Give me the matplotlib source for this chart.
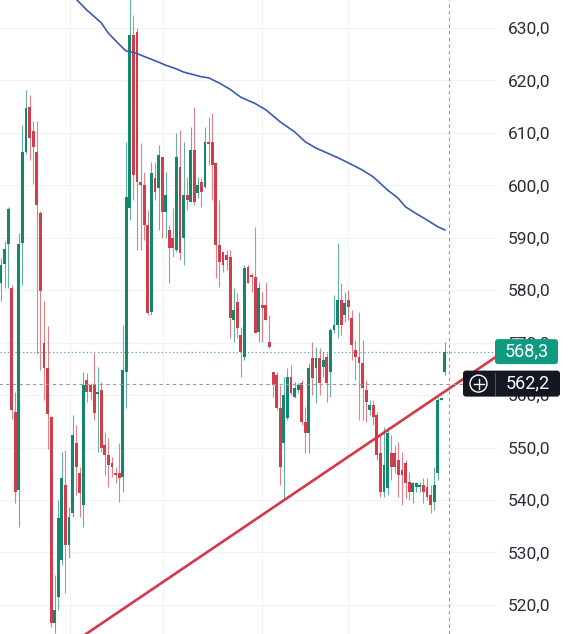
import matplotlib

matplotlib.use('Agg')
import matplotlib.pyplot as plt
from matplotlib.patches import FancyBboxPatch, Circle

plt.rcParams['font.family'] = ['Roboto', 'DejaVu Sans']

# daily candles
opens = [581.4, 585.0, 588.8, 580.4, 556.8, 541.9, 589.0, 606.4, 614.9, 610.4,
         606.4, 594.7, 569.9, 565.2, 555.8, 516.6, 521.5, 528.6, 542.9, 531.4,
         537.5, 550.9, 545.2, 539.0, 562.9, 561.9, 561.9, 560.2, 561.0, 550.5,
         548.6, 547.1, 545.2, 545.2, 544.4, 564.4, 595.7, 628.7, 629.2, 600.6,
         600.1, 592.4, 575.9, 601.4, 599.5, 605.4, 594.9, 591.5, 590.0, 587.7,
         603.5, 590.0, 598.2, 596.8, 606.7, 598.5, 600.6, 599.7, 608.3, 608.3,
         604.3, 588.6, 587.3, 586.7, 586.3, 574.3, 577.8, 571.5, 567.3, 584.4,
         582.9, 582.5, 572.0, 577.2, 577.2, 570.1, 564.4, 563.8, 557.6, 550.9,
         555.6, 563.5, 559.6, 561.0, 562.3, 554.9, 552.8, 567.1, 565.2, 567.1,
         565.4, 567.3, 564.4, 572.4, 573.4, 578.1, 575.3, 578.1, 574.7, 568.6,
         567.3, 566.1, 561.0, 557.2, 558.1, 556.2, 549.0, 541.5, 542.3, 549.0,
         549.0, 547.6, 545.7, 547.1, 543.4, 541.5, 542.5, 542.5, 542.9, 542.5,
         541.0, 539.6, 545.2, 559.1, 564.4]
highs = [586.1, 589.4, 595.9, 581.0, 560.6, 590.9, 611.5, 618.2, 617.2, 612.3,
         612.3, 595.1, 578.0, 573.2, 556.0, 525.7, 540.0, 549.2, 549.5, 538.7,
         556.2, 554.3, 546.3, 564.4, 564.2, 562.3, 568.0, 565.4, 562.5, 553.0,
         551.8, 548.2, 546.3, 550.9, 573.4, 608.3, 636.0, 632.5, 630.0, 608.1,
         602.5, 595.3, 604.5, 604.5, 607.7, 605.4, 602.5, 592.4, 595.7, 610.0,
         610.6, 608.3, 601.6, 611.1, 614.9, 601.6, 601.4, 611.1, 613.0, 613.8,
         604.3, 597.2, 587.3, 587.7, 587.7, 580.4, 579.5, 573.0, 584.8, 584.8,
         583.3, 592.1, 581.6, 579.7, 581.6, 575.3, 564.4, 564.4, 561.9, 563.5,
         565.2, 565.8, 562.5, 562.3, 562.9, 557.7, 566.1, 570.1, 569.2, 569.0,
         568.2, 568.0, 572.8, 579.1, 589.0, 581.4, 579.7, 580.0, 576.2, 570.5,
         575.9, 570.5, 562.9, 559.1, 559.1, 556.8, 552.4, 553.9, 553.9, 552.4,
         550.5, 551.1, 549.2, 547.6, 545.4, 543.4, 543.4, 543.4, 544.2, 544.2,
         542.9, 546.3, 559.5, 559.4, 570.1]
lows = [577.9, 580.4, 580.4, 555.5, 539.4, 534.9, 581.0, 606.0, 604.8, 600.3,
        567.8, 564.8, 559.1, 549.7, 515.8, 514.7, 519.0, 527.6, 522.3, 528.9,
        536.8, 541.0, 536.8, 534.9, 558.7, 559.1, 555.3, 549.2, 549.2, 544.8,
        542.5, 544.4, 543.2, 539.6, 541.5, 557.6, 593.4, 597.2, 587.7, 587.7,
        589.6, 575.3, 575.3, 597.2, 591.5, 590.0, 590.0, 581.4, 586.3, 587.3,
        585.8, 584.8, 595.3, 596.8, 596.3, 597.6, 595.9, 599.5, 603.9, 597.2,
        582.3, 580.6, 583.5, 583.9, 570.9, 570.1, 570.9, 563.5, 566.7, 581.4,
        579.7, 571.8, 570.1, 570.1, 574.3, 569.0, 559.6, 557.2, 542.9, 540.4,
        555.3, 560.0, 559.5, 560.4, 554.3, 549.0, 549.0, 560.0, 558.5, 560.0,
        563.5, 558.7, 559.6, 571.8, 570.9, 571.5, 573.9, 574.3, 566.7, 562.9,
        555.3, 555.3, 554.9, 556.2, 554.3, 547.6, 540.6, 540.6, 541.0, 543.8,
        545.2, 540.6, 539.1, 540.4, 540.0, 539.4, 541.5, 541.5, 539.4, 540.0,
        537.5, 538.1, 543.8, 559.0, 563.8]
closes = [584.8, 587.9, 595.5, 557.2, 541.5, 588.8, 606.4, 614.7, 609.0, 607.3,
          596.3, 579.9, 565.2, 556.4, 516.6, 519.0, 536.6, 544.2, 531.4, 536.8,
          552.4, 546.3, 541.3, 561.9, 560.6, 560.6, 556.6, 560.6, 549.9, 548.6,
          546.7, 546.3, 544.8, 544.2, 564.8, 597.8, 628.7, 602.0, 600.6, 600.1,
          592.4, 575.7, 602.4, 598.7, 605.8, 594.9, 598.2, 588.1, 588.1, 605.4,
          587.1, 598.2, 597.2, 606.7, 596.8, 600.1, 598.7, 608.3, 607.9, 603.9,
          588.6, 585.4, 584.8, 585.8, 574.7, 576.2, 572.8, 568.2, 584.2, 581.4,
          582.5, 571.8, 580.4, 576.6, 574.3, 569.2, 561.9, 557.6, 546.3, 560.0,
          563.5, 560.4, 561.4, 561.9, 554.9, 552.8, 565.2, 563.3, 567.1, 562.3,
          566.7, 562.3, 572.4, 573.4, 578.1, 573.4, 577.6, 576.8, 569.6, 567.3,
          566.1, 561.4, 558.7, 558.1, 555.8, 548.6, 541.5, 546.7, 552.8, 546.3,
          546.3, 544.8, 544.8, 543.3, 541.5, 543.3, 543.3, 542.9, 541.5, 540.6,
          539.1, 542.9, 559.1, 559.3, 568.3]

# moving average, sampled at candle indices
sma_idx = [19, 21, 24, 28, 30, 34, 35, 37, 41, 44, 46, 49, 51, 56, 58, 61, 64,
           67, 71, 74, 78, 82, 85, 88, 91, 94, 97, 101, 104, 108, 111, 113, 116,
           119, 122, 124]
sma_val = [637.2, 635.5, 633.4, 631.0, 629.0, 626.2, 625.6, 625.4, 624.3, 623.5,
           622.9, 622.2, 621.6, 620.7, 620.5, 619.5, 618.3, 616.8, 615.6, 614.4,
           612.1, 610.2, 608.3, 607.1, 606.2, 605.3, 604.3, 602.9, 601.6, 599.1,
           597.5, 595.9, 594.6, 593.4, 592.1, 591.5]

trend_idx = [22.1, 138.5]
trend_val = [513.7, 567.4]

price_ticks = [520, 530, 540, 550, 560, 570, 580, 590, 600, 610, 620, 630]
grid_idx = [19.3, 45.3, 72.9, 96.9]
cursor_idx = 125.1
cursor_price = 562.2
last_price = closes[-1]

GREEN = '#12876d'
RED = '#d23d4c'
TEXT = '#2a2e39'


def fmt(v):
    return f'{v:.1f}'.replace('.', ',')


fig = plt.figure(figsize=(5.7, 6.34), dpi=100)
ax = fig.add_axes([0, 0, 497 / 570, 1])
ax.set_xlim(-0.28, 138.55)
ax.set_ylim(514.46, 635.34)

for p in price_ticks:
    ax.axhline(p, color='#f0f2f6', lw=0.8, zorder=0)
for g in grid_idx:
    ax.axvline(g, color='#f0f2f6', lw=0.8, zorder=0)

xs = list(range(len(opens)))
for i in xs:
    o, h, l, c = opens[i], highs[i], lows[i], closes[i]
    col = GREEN if c >= o else RED
    ax.vlines(i, l, h, colors=col, lw=0.8, alpha=0.65, zorder=2)
    ax.bar(i, max(abs(c - o), 0.3), bottom=min(o, c), width=0.8,
           color=col, lw=0, zorder=3)

ax.plot(sma_idx, sma_val, color='#3c5ab0', lw=1.2, zorder=4)
ax.plot(trend_idx, trend_val, color='#d2394a', lw=1.9, zorder=5,
        solid_capstyle='butt')

ax.axhline(last_price, color='#5aa897', lw=0.9, ls=(0, (1, 2)), zorder=1)
ax.hlines(cursor_price, -1, 129.0, color='#9598a1', lw=0.8, ls=(0, (3, 3)),
          zorder=6)
ax.axvline(cursor_idx, color='#9598a1', lw=0.8, ls=(0, (3, 3)), zorder=6)

ax.yaxis.tick_right()
ax.set_yticks(price_ticks)
ax.set_yticklabels([fmt(p) for p in price_ticks])
ax.tick_params(axis='y', length=0, pad=8, labelsize=12.5, labelcolor=TEXT)
ax.set_xticks([])
for s in ax.spines.values():
    s.set_visible(False)

# price tags on the right scale
ov = fig.add_axes([0, 0, 1, 1])
ov.set_xlim(0, 570)
ov.set_ylim(0, 634)
ov.axis('off')

y_last = ax.transData.transform((0, last_price))[1]
y_cur = ax.transData.transform((0, cursor_price))[1]

ov.add_patch(FancyBboxPatch((495, y_last - 12.5), 63, 25,
                            boxstyle='round,pad=0,rounding_size=3',
                            fc='#109b81', ec='none'))
ov.text(526.5, y_last, fmt(last_price), color='white', fontsize=13,
        ha='center', va='center')

ov.add_patch(FancyBboxPatch((463, y_cur - 13), 97, 26,
                            boxstyle='round,pad=0,rounding_size=3',
                            fc='#131722', ec='none'))
ov.add_patch(Circle((478.5, y_cur), 8.5, fc='none', ec='white', lw=1.0))
ov.plot([473.5, 483.5], [y_cur, y_cur], color='white', lw=1.0)
ov.plot([478.5, 478.5], [y_cur - 5, y_cur + 5], color='white', lw=1.0)
ov.plot([494.5, 494.5], [y_cur - 11, y_cur + 11], color='#50535e', lw=0.8)
ov.text(527.5, y_cur, fmt(cursor_price), color='white', fontsize=13,
        ha='center', va='center')

fig.savefig('out.png', dpi=100, facecolor='white')
